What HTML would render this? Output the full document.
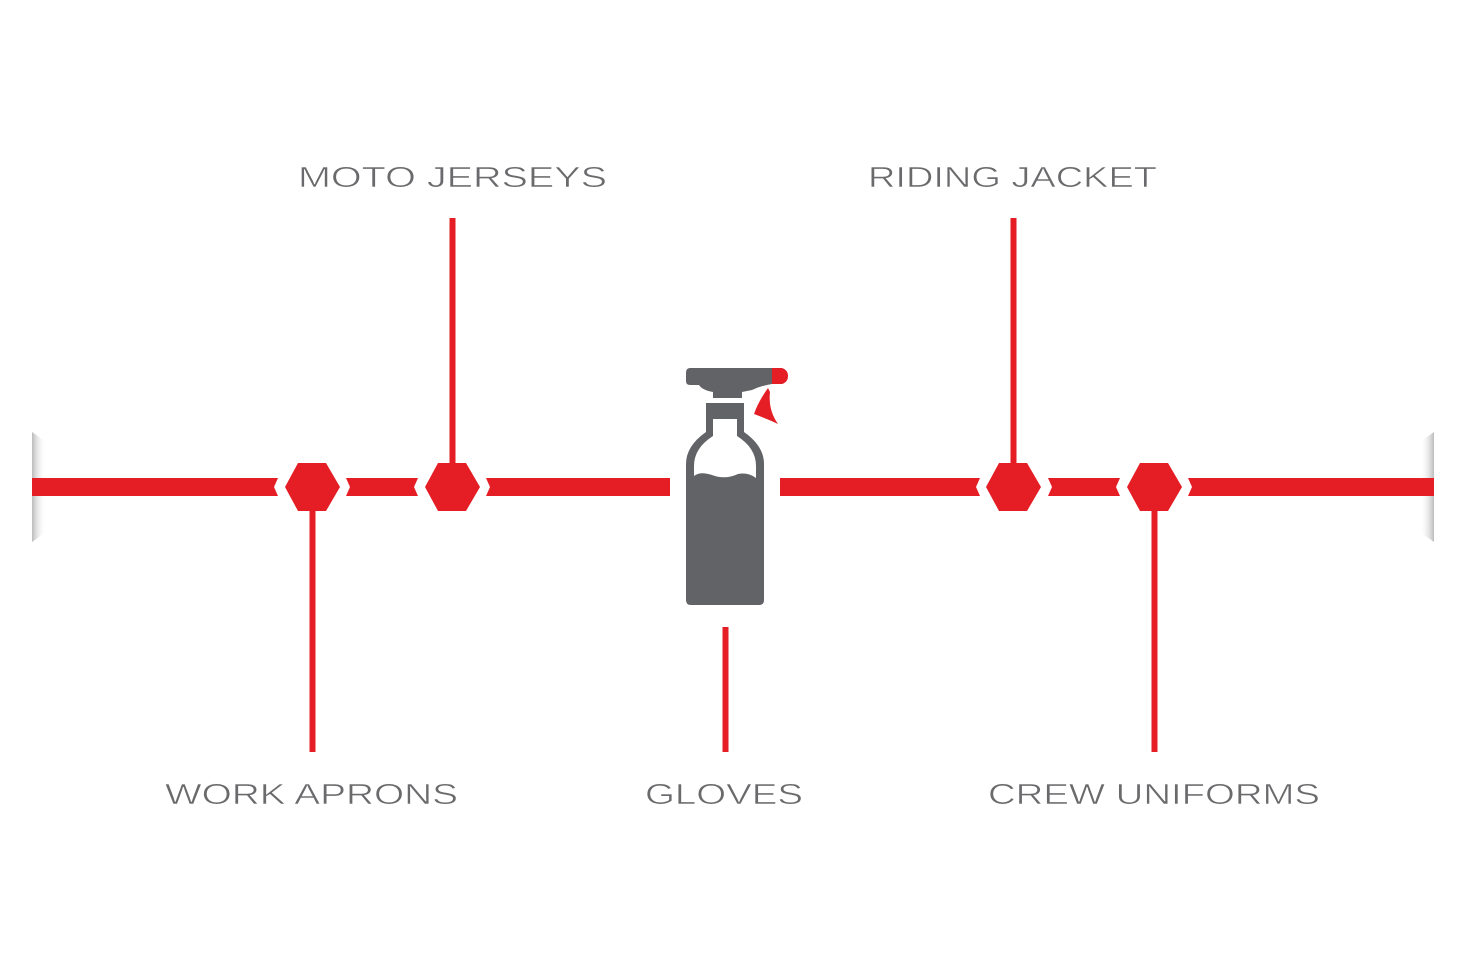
<!DOCTYPE html>
<html><head><meta charset="utf-8"><style>html,body{margin:0;padding:0;background:#fff}svg{display:block}</style></head>
<body>
<svg width="1460" height="974" viewBox="0 0 1460 974" xmlns="http://www.w3.org/2000/svg">
<defs>
<linearGradient id="capL" x1="0" x2="1"><stop offset="0" stop-color="#bbb"/><stop offset="1" stop-color="#fff" stop-opacity="0"/></linearGradient>
<linearGradient id="capR" x1="1" x2="0"><stop offset="0" stop-color="#bbb"/><stop offset="1" stop-color="#fff" stop-opacity="0"/></linearGradient>
</defs>
<polygon points="32,432 46,442 46,532 32,542" fill="url(#capL)"/>
<polygon points="1434,432 1420,442 1420,532 1434,542" fill="url(#capR)"/>
<g fill="#e51e25">
<polygon points="32,478 278,478 274,487 278,496 32,496"/>
<polygon points="346,478 418,478 414,487 418,496 346,496 350,487"/>
<polygon points="486,478 670,478 670,496 486,496 490,487"/>
<polygon points="780,478 980,478 976,487 980,496 780,496"/>
<polygon points="1048,478 1120,478 1116,487 1120,496 1048,496 1052,487"/>
<polygon points="1188,478 1434,478 1434,496 1188,496 1192,487"/>
<polygon points="298,463 326,463 340,487 326,511 298,511 285,487"/>
<polygon points="438,463 466,463 480,487 466,511 438,511 425,487"/>
<polygon points="999,463 1027,463 1041,487 1027,511 999,511 986,487"/>
<polygon points="1140,463 1168,463 1182,487 1168,511 1140,511 1127,487"/>
<rect x="449.5" y="218" width="6" height="250"/>
<rect x="1010.5" y="218" width="6" height="250"/>
<rect x="309.5" y="505" width="6" height="247"/>
<rect x="1151.5" y="505" width="6" height="247"/>
<rect x="722.5" y="627" width="6" height="125"/>
</g>
<!-- bottle -->
<path d="M690,368 L772,368 L772,384 Q760,386 752,390 L742,392 L742,398 L713,398 L713,392 Q702,390 699,385 L690,385 Q686,385 686,381 L686,373 Q686,368 690,368 Z" fill="#626366"/>
<path d="M772,368 L782,368 Q788,370 788,376 Q788,382 782,384 L772,384 Z" fill="#e51e25"/>
<path d="M768,388 Q758,402 754,414 Q770,420 778,424 Q768,410 770,392 Z" fill="#e51e25"/>
<rect x="706" y="403" width="38" height="10" fill="#626366"/>
<path d="M706,413 L744,413 L744,432 Q764,446 764,464 L764,600 Q764,605 759,605 L691,605 Q686,605 686,600 L686,464 Q686,446 706,432 Z" fill="#626366"/>
<path d="M713,419 L737,419 L737,436 Q756,448 756,466 L756,478 Q748,472 738,474 Q725,480 712,475 Q700,471 694,476 L694,466 Q694,448 713,436 Z" fill="#fff"/>
<g fill="#6a6a6d" font-family="'Liberation Sans', sans-serif" font-size="29" stroke="#fff" stroke-width="0.6">
<text x="298" y="187" textLength="309" lengthAdjust="spacingAndGlyphs">MOTO JERSEYS</text>
<text x="868" y="187" textLength="289" lengthAdjust="spacingAndGlyphs">RIDING JACKET</text>
<text x="165" y="804" textLength="293" lengthAdjust="spacingAndGlyphs">WORK APRONS</text>
<text x="645" y="804" textLength="158" lengthAdjust="spacingAndGlyphs">GLOVES</text>
<text x="988" y="804" textLength="332" lengthAdjust="spacingAndGlyphs">CREW UNIFORMS</text>
</g>
</svg>
</body></html>
